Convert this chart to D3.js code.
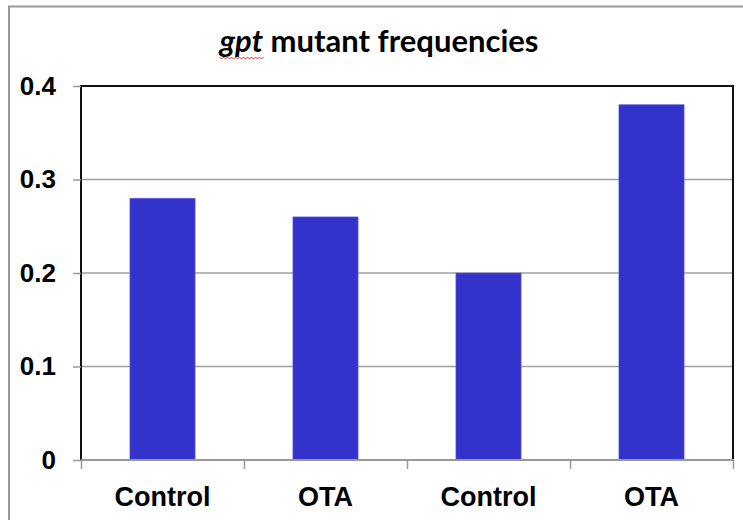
<!DOCTYPE html>
<html><head><meta charset="utf-8">
<script src="https://cdn.jsdelivr.net/npm/d3@7"></script>
<style>body{margin:0;background:#fff;}svg{display:block;}</style>
</head><body>
<svg id="chart" width="743" height="520"></svg>
<script>
const categories = ["Control", "OTA", "Control", "OTA"];
const values = [0.28, 0.26, 0.20, 0.38];
const yTicks = [0, 0.1, 0.2, 0.3, 0.4];
const yTickLabels = ["0", "0.1", "0.2", "0.3", "0.4"];
const titleItalic = "gpt";
const titleRest = " mutant frequencies";

const svg = d3.select("#chart");
const W = 743, H = 520;

// outer frame
svg.append("path").attr("d", `M9,${H} V6.5 H${W}`).attr("fill", "none")
  .attr("stroke", "#999").attr("stroke-width", 2);

const x = d3.scaleBand().domain(d3.range(categories.length)).range([81, 733]).padding(0);
const y = d3.scaleLinear().domain([0, 0.4]).range([460, 86]);

// gridlines
svg.append("g").selectAll("line").data(yTicks.filter(d => d > 0 && d < 0.4)).join("line")
  .attr("x1", 81).attr("x2", 733).attr("y1", d => y(d)).attr("y2", d => y(d))
  .attr("stroke", "#a0a0a0").attr("stroke-width", 1.5);

// bars
const bw = x.bandwidth() * 0.4;
svg.append("g").selectAll("rect").data(values).join("rect")
  .attr("x", (d, i) => x(i) + x.bandwidth() / 2 - bw / 2)
  .attr("y", d => y(d))
  .attr("width", bw)
  .attr("height", d => y(0) - y(d))
  .attr("fill", "#3333cc")
  .attr("stroke", "#6a6ae0").attr("stroke-width", 0.6);

// plot frame: top, right, left
svg.append("path").attr("d", `M81,460 V86 H733 V460`).attr("fill", "none")
  .attr("stroke", "#111").attr("stroke-width", 2);

// y axis ticks & labels
const yAxis = d3.axisLeft(y).tickValues(yTicks).tickSize(8)
  .tickFormat((d, i) => yTickLabels[i]).tickPadding(17);
const gy = svg.append("g").attr("transform", "translate(81,0)").call(yAxis);
gy.select(".domain").remove();
gy.selectAll(".tick line").attr("stroke", "#999").attr("stroke-width", 1.5);
gy.selectAll(".tick text").attr("font-family", "'Liberation Sans', Arial, sans-serif")
  .attr("font-weight", "bold").attr("font-size", 26).attr("fill", "#000");

// x axis
const xb = d3.scaleLinear().domain([0, categories.length]).range([81, 733]);
const xAxis = d3.axisBottom(xb).tickValues(d3.range(categories.length + 1)).tickSize(9).tickFormat("");
const gx = svg.append("g").attr("transform", "translate(0,460)").call(xAxis);
gx.select(".domain").attr("stroke", "#999").attr("stroke-width", 2).attr("d", "M81,0H734");
gx.selectAll(".tick line").attr("stroke", "#999").attr("stroke-width", 1.5);

svg.append("g").selectAll("text").data(categories).join("text")
  .attr("x", (d, i) => x(i) + x.bandwidth() / 2)
  .attr("y", 506)
  .attr("text-anchor", "middle")
  .attr("font-family", "'Liberation Sans', Arial, sans-serif")
  .attr("font-weight", "bold").attr("font-size", 27).attr("fill", "#000")
  .text(d => d);

// title
const title = svg.append("text").attr("x", 379).attr("y", 52).attr("text-anchor", "middle")
  .attr("font-family", "Lato, 'Open Sans', sans-serif").attr("font-weight", "bold")
  .attr("font-size", 31).attr("fill", "#000");
const t1 = title.append("tspan").attr("font-style", "italic").text(titleItalic);
title.append("tspan").text(titleRest);

// spell-check squiggle under italic word
const tl = title.node();
const start = tl.getStartPositionOfChar(0).x;
const end = tl.getEndPositionOfChar(titleItalic.length - 1).x;
let d = `M${start},57`;
for (let xx = start, k = 0; xx < end; xx += 2, k++) d += ` L${xx + 2},${k % 2 ? 57 : 59}`;
svg.append("path").attr("d", d).attr("fill", "none").attr("stroke", "#e02020").attr("stroke-width", 0.9);
</script>
</body></html>
